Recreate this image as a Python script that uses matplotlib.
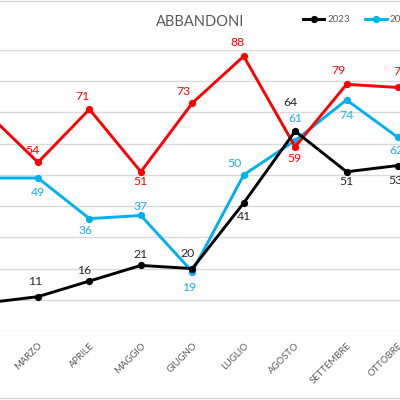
import matplotlib
matplotlib.use("Agg")
import matplotlib.pyplot as plt
from matplotlib.lines import Line2D

plt.rcParams['font.family'] = ['Lato', 'DejaVu Sans']

# data
mesi = ["FEBBRAIO", "MARZO", "APRILE", "MAGGIO", "GIUGNO",
        "LUGLIO", "AGOSTO", "SETTEMBRE", "OTTOBRE"]
anni = ["2023", "2024", "2025"]
v2023 = [9, 11, 16, 21, 20, 41, 64, 51, 53]
v2024 = [49, 49, 36, 37, 19, 50, 61, 74, 62]
v2025 = [70, 54, 71, 51, 73, 88, 59, 79, 78]

colori = ["#000000", "#00B0F0", "#FF0000"]
col_label = ["#262626", "#1CB0E8", "#FF0000"]

# label offsets in pixels (dx, dy up)
off2023 = [(0, 12), (-3, 15), (-5, 11), (0, 11), (-5, 15), (0, -14), (-5, 29), (0, -10), (-3, -15)]
off2024 = [(0, -14), (0, -14), (-4, -12), (0, 9), (-3, -16), (-9, 11), (0, 22), (0, -16), (-2, -13)]
off2025 = [(0, 12), (-5, 12), (-7, 13), (0, -10), (-9, 12), (-6, 14), (-1, -12), (-8, 14), (2, 16)]

fig = plt.figure(figsize=(4, 4), dpi=100)
ax = fig.add_axes([0, (400 - 331) / 400, 1, 281 / 400])

x = list(range(len(mesi)))

serie = [v2023, v2024, v2025]
offs = [off2023, off2024, off2025]
zord = [3.5, 3.0, 3.2]
for i, vals in enumerate(serie):
    ax.plot(x, vals, color=colori[i], lw=2.1, marker='o', markersize=4.2,
            label=anni[i], zorder=zord[i])
    for k, v in zip(x[1:], vals[1:]):
        dx, dy = offs[i][k]
        ax.annotate(str(v), (k, v), xytext=(dx * 0.72, dy * 0.72),
                    textcoords='offset points', ha='center', va='center',
                    fontsize=8.8, color=col_label[i], zorder=6)

ax.set_yticks(range(0, 91, 10))
ax.yaxis.grid(True, color='#D9D9D9', lw=1)
ax.set_axisbelow(True)
ax.tick_params(axis='y', left=False, labelleft=False)
ax.set_xticks(x[1:])
ax.set_xticklabels(mesi[1:], rotation=45, ha='right', va='top',
                   rotation_mode='anchor', fontsize=6.8, color='#595959')
ax.tick_params(axis='x', length=0, pad=7)
for s in ax.spines.values():
    s.set_visible(False)

# visible window of the wider chart
px = 360 / 7.0
xmin = 1 - 38 / px
ax.set_xlim(xmin, xmin + 400 / px)
ax.set_ylim(0, 90)

fig.text(0.5, 1 - 22 / 400, "ABBANDONI", ha='center', va='center',
         fontsize=10.5, color='#595959')

ax.legend(loc='center left', bbox_to_anchor=(0.745, 1 - 20 / 400),
          bbox_transform=fig.transFigure, ncol=3, frameon=False,
          fontsize=7, labelcolor='#595959', handlelength=2.2,
          handletextpad=0.3, columnspacing=1.6, borderpad=0, numpoints=1)

# chart border
fig.add_artist(Line2D([0, 1], [1 - 1 / 400, 1 - 1 / 400], color='#D9D9D9', lw=1))
fig.add_artist(Line2D([0, 1], [2 / 400, 2 / 400], color='#D9D9D9', lw=1))

fig.savefig("out.png", dpi=100)
